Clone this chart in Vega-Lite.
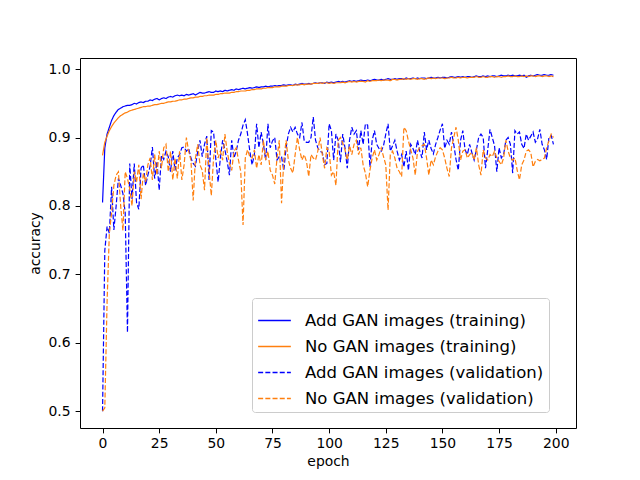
{
  "$schema": "https://vega.github.io/schema/vega-lite/v6.json",
  "width": 496,
  "height": 370,
  "autosize": {"type": "none"},
  "padding": {"left": 80, "top": 58, "right": 64, "bottom": 52},
  "background": "white",
  "config": {
    "font": "DejaVu Sans",
    "view": {"stroke": "black", "strokeWidth": 1},
    "axis": {
      "domain": false,
      "grid": false,
      "tickColor": "black",
      "tickSize": 4.9,
      "tickWidth": 1,
      "labelFont": "DejaVu Sans",
      "labelFontSize": 13.9,
      "labelColor": "black",
      "titleFont": "DejaVu Sans",
      "titleFontSize": 13.9,
      "titleFontWeight": "normal",
      "titleColor": "black"
    },
    "legend": {
      "labelFont": "DejaVu Sans",
      "labelFontSize": 16.5,
      "labelColor": "black",
      "labelLimit": 400
    }
  },
  "data": {
    "values": [
      {"e":0,"a":0.805,"n":0.874,"av":0.500,"nv":0.500},
      {"e":1,"a":0.885,"n":0.893,"av":0.735,"nv":0.505},
      {"e":2,"a":0.905,"n":0.902,"av":0.770,"nv":0.660},
      {"e":3,"a":0.915,"n":0.910,"av":0.760,"nv":0.760},
      {"e":4,"a":0.925,"n":0.916,"av":0.828,"nv":0.790},
      {"e":5,"a":0.932,"n":0.921,"av":0.765,"nv":0.830},
      {"e":6,"a":0.937,"n":0.925,"av":0.800,"nv":0.845},
      {"e":7,"a":0.941,"n":0.929,"av":0.840,"nv":0.850},
      {"e":8,"a":0.943,"n":0.932,"av":0.830,"nv":0.800},
      {"e":9,"a":0.945,"n":0.934,"av":0.818,"nv":0.764},
      {"e":10,"a":0.946,"n":0.936,"av":0.790,"nv":0.850},
      {"e":11,"a":0.947,"n":0.937,"av":0.615,"nv":0.840},
      {"e":12,"a":0.947,"n":0.939,"av":0.862,"nv":0.825},
      {"e":13,"a":0.948,"n":0.940,"av":0.810,"nv":0.800},
      {"e":14,"a":0.950,"n":0.941,"av":0.862,"nv":0.850},
      {"e":15,"a":0.949,"n":0.942,"av":0.805,"nv":0.835},
      {"e":16,"a":0.951,"n":0.943,"av":0.795,"nv":0.860},
      {"e":17,"a":0.952,"n":0.944,"av":0.855,"nv":0.810},
      {"e":18,"a":0.951,"n":0.945,"av":0.860,"nv":0.848},
      {"e":19,"a":0.953,"n":0.945,"av":0.830,"nv":0.835},
      {"e":20,"a":0.953,"n":0.946,"av":0.845,"nv":0.860},
      {"e":21,"a":0.955,"n":0.946,"av":0.858,"nv":0.870},
      {"e":22,"a":0.954,"n":0.947,"av":0.886,"nv":0.838},
      {"e":23,"a":0.956,"n":0.948,"av":0.840,"nv":0.875},
      {"e":24,"a":0.957,"n":0.948,"av":0.865,"nv":0.845},
      {"e":25,"a":0.955,"n":0.949,"av":0.823,"nv":0.880},
      {"e":26,"a":0.957,"n":0.950,"av":0.874,"nv":0.855},
      {"e":27,"a":0.958,"n":0.950,"av":0.868,"nv":0.885},
      {"e":28,"a":0.957,"n":0.951,"av":0.880,"nv":0.890},
      {"e":29,"a":0.959,"n":0.952,"av":0.872,"nv":0.850},
      {"e":30,"a":0.960,"n":0.952,"av":0.850,"nv":0.880},
      {"e":31,"a":0.959,"n":0.953,"av":0.880,"nv":0.838},
      {"e":32,"a":0.961,"n":0.953,"av":0.852,"nv":0.870},
      {"e":33,"a":0.962,"n":0.954,"av":0.870,"nv":0.840},
      {"e":34,"a":0.961,"n":0.955,"av":0.875,"nv":0.880},
      {"e":35,"a":0.962,"n":0.955,"av":0.885,"nv":0.838},
      {"e":36,"a":0.961,"n":0.956,"av":0.886,"nv":0.860},
      {"e":37,"a":0.963,"n":0.956,"av":0.880,"nv":0.900},
      {"e":38,"a":0.962,"n":0.957,"av":0.884,"nv":0.880},
      {"e":39,"a":0.963,"n":0.958,"av":0.870,"nv":0.867},
      {"e":40,"a":0.964,"n":0.958,"av":0.862,"nv":0.808},
      {"e":41,"a":0.962,"n":0.959,"av":0.858,"nv":0.870},
      {"e":42,"a":0.964,"n":0.959,"av":0.880,"nv":0.890},
      {"e":43,"a":0.966,"n":0.960,"av":0.896,"nv":0.860},
      {"e":44,"a":0.965,"n":0.960,"av":0.872,"nv":0.852},
      {"e":45,"a":0.965,"n":0.961,"av":0.890,"nv":0.823},
      {"e":46,"a":0.966,"n":0.961,"av":0.902,"nv":0.900},
      {"e":47,"a":0.967,"n":0.962,"av":0.838,"nv":0.852},
      {"e":48,"a":0.966,"n":0.962,"av":0.910,"nv":0.815},
      {"e":49,"a":0.966,"n":0.962,"av":0.908,"nv":0.870},
      {"e":50,"a":0.968,"n":0.963,"av":0.868,"nv":0.896},
      {"e":51,"a":0.967,"n":0.963,"av":0.835,"nv":0.870},
      {"e":52,"a":0.968,"n":0.964,"av":0.870,"nv":0.880},
      {"e":53,"a":0.967,"n":0.964,"av":0.896,"nv":0.867},
      {"e":54,"a":0.969,"n":0.965,"av":0.882,"nv":0.905},
      {"e":55,"a":0.968,"n":0.965,"av":0.865,"nv":0.880},
      {"e":56,"a":0.969,"n":0.965,"av":0.845,"nv":0.862},
      {"e":57,"a":0.970,"n":0.966,"av":0.896,"nv":0.852},
      {"e":58,"a":0.969,"n":0.966,"av":0.870,"nv":0.880},
      {"e":59,"a":0.971,"n":0.967,"av":0.880,"nv":0.885},
      {"e":60,"a":0.970,"n":0.967,"av":0.896,"nv":0.867},
      {"e":61,"a":0.971,"n":0.968,"av":0.905,"nv":0.850},
      {"e":62,"a":0.972,"n":0.968,"av":0.918,"nv":0.772},
      {"e":63,"a":0.971,"n":0.968,"av":0.926,"nv":0.870},
      {"e":64,"a":0.972,"n":0.969,"av":0.905,"nv":0.882},
      {"e":65,"a":0.973,"n":0.969,"av":0.880,"nv":0.872},
      {"e":66,"a":0.972,"n":0.970,"av":0.860,"nv":0.870},
      {"e":67,"a":0.973,"n":0.970,"av":0.875,"nv":0.882},
      {"e":68,"a":0.974,"n":0.971,"av":0.920,"nv":0.855},
      {"e":69,"a":0.973,"n":0.971,"av":0.885,"nv":0.875},
      {"e":70,"a":0.974,"n":0.971,"av":0.908,"nv":0.860},
      {"e":71,"a":0.974,"n":0.972,"av":0.890,"nv":0.896},
      {"e":72,"a":0.975,"n":0.972,"av":0.867,"nv":0.867},
      {"e":73,"a":0.974,"n":0.973,"av":0.920,"nv":0.880},
      {"e":74,"a":0.975,"n":0.973,"av":0.885,"nv":0.852},
      {"e":75,"a":0.975,"n":0.973,"av":0.895,"nv":0.845},
      {"e":76,"a":0.976,"n":0.974,"av":0.900,"nv":0.832},
      {"e":77,"a":0.975,"n":0.974,"av":0.867,"nv":0.870},
      {"e":78,"a":0.976,"n":0.974,"av":0.872,"nv":0.896},
      {"e":79,"a":0.976,"n":0.975,"av":0.872,"nv":0.804},
      {"e":80,"a":0.977,"n":0.975,"av":0.852,"nv":0.867},
      {"e":81,"a":0.976,"n":0.975,"av":0.885,"nv":0.896},
      {"e":82,"a":0.977,"n":0.976,"av":0.905,"nv":0.867},
      {"e":83,"a":0.977,"n":0.976,"av":0.915,"nv":0.855},
      {"e":84,"a":0.976,"n":0.976,"av":0.908,"nv":0.848},
      {"e":85,"a":0.978,"n":0.977,"av":0.915,"nv":0.875},
      {"e":86,"a":0.977,"n":0.977,"av":0.905,"nv":0.900},
      {"e":87,"a":0.978,"n":0.977,"av":0.900,"nv":0.882},
      {"e":88,"a":0.979,"n":0.978,"av":0.922,"nv":0.867},
      {"e":89,"a":0.978,"n":0.977,"av":0.895,"nv":0.875},
      {"e":90,"a":0.978,"n":0.978,"av":0.893,"nv":0.865},
      {"e":91,"a":0.979,"n":0.978,"av":0.893,"nv":0.843},
      {"e":92,"a":0.978,"n":0.978,"av":0.900,"nv":0.875},
      {"e":93,"a":0.979,"n":0.979,"av":0.930,"nv":0.870},
      {"e":94,"a":0.980,"n":0.979,"av":0.896,"nv":0.867},
      {"e":95,"a":0.979,"n":0.979,"av":0.885,"nv":0.880},
      {"e":96,"a":0.980,"n":0.980,"av":0.880,"nv":0.900},
      {"e":97,"a":0.980,"n":0.979,"av":0.878,"nv":0.875},
      {"e":98,"a":0.979,"n":0.980,"av":0.860,"nv":0.855},
      {"e":99,"a":0.981,"n":0.980,"av":0.862,"nv":0.885},
      {"e":100,"a":0.980,"n":0.979,"av":0.920,"nv":0.880},
      {"e":101,"a":0.981,"n":0.980,"av":0.910,"nv":0.845},
      {"e":102,"a":0.980,"n":0.979,"av":0.867,"nv":0.850},
      {"e":103,"a":0.981,"n":0.980,"av":0.905,"nv":0.830},
      {"e":104,"a":0.982,"n":0.980,"av":0.896,"nv":0.896},
      {"e":105,"a":0.981,"n":0.980,"av":0.864,"nv":0.900},
      {"e":106,"a":0.982,"n":0.981,"av":0.905,"nv":0.892},
      {"e":107,"a":0.981,"n":0.980,"av":0.885,"nv":0.882},
      {"e":108,"a":0.982,"n":0.981,"av":0.855,"nv":0.867},
      {"e":109,"a":0.983,"n":0.982,"av":0.896,"nv":0.888},
      {"e":110,"a":0.982,"n":0.981,"av":0.915,"nv":0.875},
      {"e":111,"a":0.983,"n":0.982,"av":0.905,"nv":0.890},
      {"e":112,"a":0.982,"n":0.981,"av":0.910,"nv":0.896},
      {"e":113,"a":0.983,"n":0.982,"av":0.882,"nv":0.875},
      {"e":114,"a":0.984,"n":0.982,"av":0.910,"nv":0.885},
      {"e":115,"a":0.983,"n":0.982,"av":0.890,"nv":0.860},
      {"e":116,"a":0.983,"n":0.981,"av":0.920,"nv":0.848},
      {"e":117,"a":0.984,"n":0.983,"av":0.918,"nv":0.828},
      {"e":118,"a":0.983,"n":0.982,"av":0.857,"nv":0.852},
      {"e":119,"a":0.984,"n":0.983,"av":0.896,"nv":0.870},
      {"e":120,"a":0.985,"n":0.983,"av":0.910,"nv":0.882},
      {"e":121,"a":0.984,"n":0.983,"av":0.890,"nv":0.867},
      {"e":122,"a":0.984,"n":0.984,"av":0.884,"nv":0.875},
      {"e":123,"a":0.985,"n":0.983,"av":0.880,"nv":0.885},
      {"e":124,"a":0.984,"n":0.984,"av":0.888,"nv":0.872},
      {"e":125,"a":0.985,"n":0.984,"av":0.905,"nv":0.860},
      {"e":126,"a":0.986,"n":0.984,"av":0.920,"nv":0.794},
      {"e":127,"a":0.985,"n":0.983,"av":0.880,"nv":0.875},
      {"e":128,"a":0.985,"n":0.985,"av":0.888,"nv":0.880},
      {"e":129,"a":0.986,"n":0.985,"av":0.896,"nv":0.870},
      {"e":130,"a":0.985,"n":0.984,"av":0.880,"nv":0.855},
      {"e":131,"a":0.986,"n":0.985,"av":0.867,"nv":0.850},
      {"e":132,"a":0.986,"n":0.985,"av":0.875,"nv":0.843},
      {"e":133,"a":0.985,"n":0.986,"av":0.857,"nv":0.915},
      {"e":134,"a":0.987,"n":0.985,"av":0.880,"nv":0.910},
      {"e":135,"a":0.986,"n":0.986,"av":0.852,"nv":0.895},
      {"e":136,"a":0.986,"n":0.985,"av":0.890,"nv":0.882},
      {"e":137,"a":0.987,"n":0.986,"av":0.884,"nv":0.870},
      {"e":138,"a":0.986,"n":0.986,"av":0.875,"nv":0.845},
      {"e":139,"a":0.987,"n":0.985,"av":0.896,"nv":0.880},
      {"e":140,"a":0.986,"n":0.986,"av":0.880,"nv":0.885},
      {"e":141,"a":0.987,"n":0.986,"av":0.870,"nv":0.888},
      {"e":142,"a":0.987,"n":0.985,"av":0.908,"nv":0.890},
      {"e":143,"a":0.986,"n":0.986,"av":0.882,"nv":0.870},
      {"e":144,"a":0.987,"n":0.987,"av":0.896,"nv":0.845},
      {"e":145,"a":0.988,"n":0.986,"av":0.884,"nv":0.867},
      {"e":146,"a":0.987,"n":0.987,"av":0.876,"nv":0.860},
      {"e":147,"a":0.987,"n":0.986,"av":0.890,"nv":0.872},
      {"e":148,"a":0.988,"n":0.987,"av":0.900,"nv":0.880},
      {"e":149,"a":0.987,"n":0.987,"av":0.911,"nv":0.885},
      {"e":150,"a":0.988,"n":0.987,"av":0.920,"nv":0.882},
      {"e":151,"a":0.988,"n":0.986,"av":0.884,"nv":0.870},
      {"e":152,"a":0.987,"n":0.987,"av":0.896,"nv":0.855},
      {"e":153,"a":0.988,"n":0.987,"av":0.890,"nv":0.843},
      {"e":154,"a":0.989,"n":0.988,"av":0.908,"nv":0.885},
      {"e":155,"a":0.988,"n":0.987,"av":0.890,"nv":0.900},
      {"e":156,"a":0.988,"n":0.987,"av":0.868,"nv":0.915},
      {"e":157,"a":0.989,"n":0.988,"av":0.852,"nv":0.896},
      {"e":158,"a":0.988,"n":0.987,"av":0.896,"nv":0.867},
      {"e":159,"a":0.989,"n":0.988,"av":0.910,"nv":0.880},
      {"e":160,"a":0.988,"n":0.988,"av":0.882,"nv":0.882},
      {"e":161,"a":0.989,"n":0.987,"av":0.875,"nv":0.870},
      {"e":162,"a":0.989,"n":0.988,"av":0.890,"nv":0.875},
      {"e":163,"a":0.988,"n":0.988,"av":0.878,"nv":0.878},
      {"e":164,"a":0.989,"n":0.988,"av":0.867,"nv":0.867},
      {"e":165,"a":0.990,"n":0.989,"av":0.882,"nv":0.885},
      {"e":166,"a":0.989,"n":0.988,"av":0.900,"nv":0.860},
      {"e":167,"a":0.989,"n":0.988,"av":0.905,"nv":0.845},
      {"e":168,"a":0.990,"n":0.989,"av":0.900,"nv":0.882},
      {"e":169,"a":0.989,"n":0.988,"av":0.855,"nv":0.870},
      {"e":170,"a":0.990,"n":0.988,"av":0.882,"nv":0.867},
      {"e":171,"a":0.989,"n":0.989,"av":0.912,"nv":0.875},
      {"e":172,"a":0.990,"n":0.989,"av":0.900,"nv":0.872},
      {"e":173,"a":0.990,"n":0.988,"av":0.888,"nv":0.880},
      {"e":174,"a":0.989,"n":0.989,"av":0.850,"nv":0.870},
      {"e":175,"a":0.990,"n":0.989,"av":0.885,"nv":0.865},
      {"e":176,"a":0.991,"n":0.988,"av":0.870,"nv":0.860},
      {"e":177,"a":0.990,"n":0.989,"av":0.875,"nv":0.870},
      {"e":178,"a":0.990,"n":0.989,"av":0.896,"nv":0.896},
      {"e":179,"a":0.991,"n":0.990,"av":0.900,"nv":0.880},
      {"e":180,"a":0.990,"n":0.989,"av":0.890,"nv":0.870},
      {"e":181,"a":0.991,"n":0.989,"av":0.848,"nv":0.867},
      {"e":182,"a":0.990,"n":0.990,"av":0.910,"nv":0.870},
      {"e":183,"a":0.990,"n":0.989,"av":0.905,"nv":0.852},
      {"e":184,"a":0.991,"n":0.989,"av":0.908,"nv":0.838},
      {"e":185,"a":0.990,"n":0.990,"av":0.890,"nv":0.860},
      {"e":186,"a":0.991,"n":0.989,"av":0.884,"nv":0.867},
      {"e":187,"a":0.988,"n":0.990,"av":0.905,"nv":0.880},
      {"e":188,"a":0.990,"n":0.989,"av":0.896,"nv":0.882},
      {"e":189,"a":0.991,"n":0.990,"av":0.902,"nv":0.878},
      {"e":190,"a":0.990,"n":0.990,"av":0.908,"nv":0.857},
      {"e":191,"a":0.991,"n":0.989,"av":0.893,"nv":0.865},
      {"e":192,"a":0.992,"n":0.990,"av":0.898,"nv":0.868},
      {"e":193,"a":0.991,"n":0.990,"av":0.912,"nv":0.866},
      {"e":194,"a":0.991,"n":0.989,"av":0.890,"nv":0.868},
      {"e":195,"a":0.992,"n":0.990,"av":0.882,"nv":0.870},
      {"e":196,"a":0.991,"n":0.990,"av":0.868,"nv":0.885},
      {"e":197,"a":0.991,"n":0.989,"av":0.900,"nv":0.895},
      {"e":198,"a":0.992,"n":0.990,"av":0.903,"nv":0.905},
      {"e":199,"a":0.991,"n":0.989,"av":0.890,"nv":0.900}
    ]
  },
  "transform": [
    {"fold": ["a", "n", "av", "nv"], "as": ["series", "accuracy"]}
  ],
  "mark": {"type": "line", "strokeWidth": 1.2, "interpolate": "linear"},
  "encoding": {
    "x": {
      "field": "e",
      "type": "quantitative",
      "title": "epoch",
      "scale": {"domain": [-9.95, 208.95], "nice": false, "zero": false},
      "axis": {"values": [0, 25, 50, 75, 100, 125, 150, 175, 200], "labelPadding": 4, "titlePadding": 4}
    },
    "y": {
      "field": "accuracy",
      "type": "quantitative",
      "title": "accuracy",
      "scale": {"domain": [0.4754, 1.0162], "nice": false, "zero": false},
      "axis": {"values": [0.5, 0.6, 0.7, 0.8, 0.9, 1.0], "format": ".1f", "labelPadding": 5, "titlePadding": 6}
    },
    "color": {
      "field": "series",
      "type": "nominal",
      "scale": {"domain": ["a", "n", "av", "nv"], "range": ["#0000ff", "#ff7f0e", "#0000ff", "#ff7f0e"]},
      "legend": {
        "title": null,
        "orient": "none",
        "legendX": 172,
        "legendY": 240,
        "symbolType": "stroke",
        "symbolSize": 1070,
        "symbolStrokeWidth": 1.3,
        "labelOffset": 13,
        "rowPadding": 0,
        "padding": 5,
        "strokeColor": "#cccccc",
        "fillColor": "white",
        "cornerRadius": 3,
        "labelExpr": "datum.value == 'a' ? 'Add GAN images (training)' : datum.value == 'n' ? 'No GAN images (training)' : datum.value == 'av' ? 'Add GAN images (validation)' : 'No GAN images (validation)'"
      }
    },
    "strokeDash": {
      "field": "series",
      "type": "nominal",
      "scale": {"domain": ["a", "n", "av", "nv"], "range": [[1, 0], [1, 0], [5, 2.2], [5, 2.2]]},
      "legend": null
    }
  }
}
